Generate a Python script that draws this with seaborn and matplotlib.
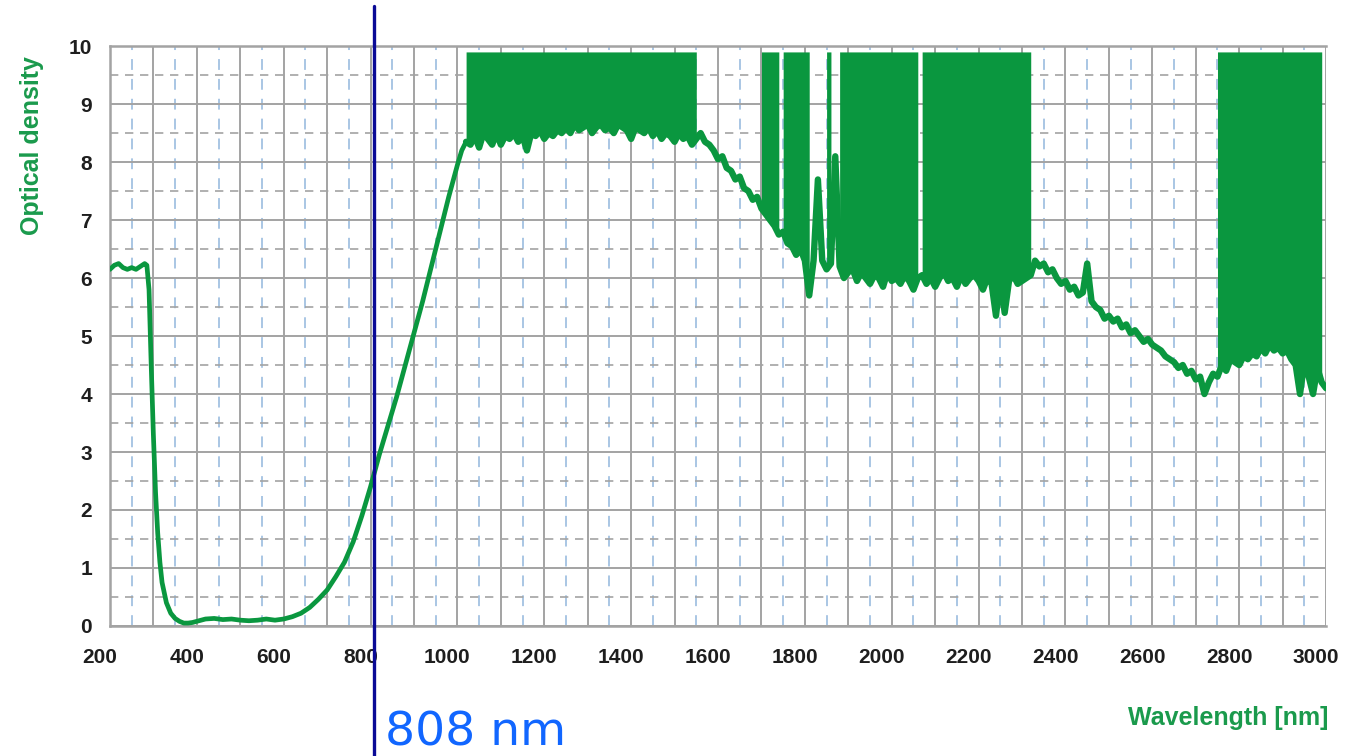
import numpy as np
import pandas as pd
import matplotlib
matplotlib.use("Agg")
import matplotlib.pyplot as plt
import matplotlib.transforms as mtransforms
from matplotlib.ticker import MultipleLocator, FuncFormatter
import seaborn as sns

# Smooth part of the spectrum
wl_smooth = [200, 210, 220, 230, 240, 250, 260, 270, 280, 285, 290, 295, 300, 305,
             310, 315, 320, 330, 340, 350, 360, 370, 380, 390, 400, 420, 440, 460,
             480, 500, 520, 540, 560, 580, 600, 620, 640, 660, 680, 700, 720, 740,
             760, 780, 800, 820, 840, 860, 880, 900, 920, 940, 960, 980, 1000, 1010, 1020]
od_smooth = [6.15, 6.22, 6.25, 6.18, 6.15, 6.18, 6.15, 6.2, 6.25, 6.22, 5.8, 4.5, 3.3, 2.3,
             1.6, 1.1, 0.75, 0.4, 0.22, 0.13, 0.08, 0.05, 0.05, 0.06, 0.08, 0.12, 0.13, 0.11,
             0.12, 0.1, 0.09, 0.1, 0.12, 0.1, 0.12, 0.16, 0.22, 0.32, 0.46, 0.62, 0.85, 1.1,
             1.45, 1.9, 2.4, 2.95, 3.45, 3.95, 4.5, 5.05, 5.6, 6.2, 6.8, 7.4, 7.95, 8.2, 8.35]

# Noisy part, sampled every 10 nm from 1020 to 3000 nm
wl_noisy = np.arange(1020, 3001, 10)
od_noisy = [
    8.35,
    8.3, 8.45, 8.25, 8.5, 8.4, 8.3, 8.5, 8.3, 8.45, 8.4,
    8.5, 8.35, 8.45, 8.2, 8.5, 8.45, 8.55, 8.4, 8.5, 8.45,
    8.55, 8.5, 8.6, 8.5, 8.65, 8.55, 8.6, 8.65, 8.5, 8.6,
    8.65, 8.55, 8.6, 8.5, 8.65, 8.6, 8.55, 8.4, 8.6, 8.55,
    8.5, 8.6, 8.45, 8.55, 8.4, 8.5, 8.45, 8.35, 8.5, 8.4,
    8.45, 8.3, 8.4, 8.5, 8.35, 8.3, 8.2, 8.05, 8.1, 7.9,
    7.85, 7.7, 7.75, 7.55, 7.5, 7.35, 7.4, 7.2, 7.1, 7.0,
    6.9, 6.75, 6.8, 6.6, 6.55, 6.4, 6.5, 6.3, 5.7, 6.3,
    7.7, 6.3, 6.15, 6.25, 8.1, 6.2, 6.0, 6.1, 6.15, 5.95,
    6.1, 6.0, 5.9, 6.05, 6.0, 5.85, 6.1, 5.95, 6.0, 5.9,
    6.05, 5.95, 5.8, 6.0, 6.05, 5.9, 6.0, 5.85, 6.0, 6.1,
    5.95, 6.0, 5.85, 6.05, 5.9, 6.0, 6.05, 5.95, 5.8, 6.0,
    5.9, 5.35, 6.0, 5.4, 5.95, 6.05, 5.9, 5.95, 6.0, 6.05,
    6.3, 6.2, 6.25, 6.1, 6.15, 6.0, 5.9, 5.95, 5.8, 5.85,
    5.7, 5.75, 6.25, 5.6, 5.5, 5.45, 5.3, 5.35, 5.25, 5.3,
    5.15, 5.2, 5.05, 5.1, 5.0, 4.9, 4.95, 4.85, 4.8, 4.75,
    4.65, 4.6, 4.55, 4.45, 4.5, 4.35, 4.4, 4.25, 4.3, 4.0,
    4.2, 4.35, 4.3, 4.5, 4.4, 4.6, 4.55, 4.5, 4.65, 4.6,
    4.7, 4.65, 4.8, 4.7, 4.85, 4.75, 4.8, 4.7, 4.75, 4.6,
    4.5, 4.0, 4.55, 4.3, 4.0, 4.45, 4.2, 4.1,
]

# Saturated (detector limit) bands
band_start = [1020, 1700, 1746, 1848, 1877, 2064, 2741]
band_end = [1558, 1742, 1813, 1860, 2060, 2327, 2995]
od_max = 9.9

laser_nm = 808

smooth = pd.DataFrame({"wl": wl_smooth, "od": od_smooth})
noisy = pd.DataFrame({"wl": wl_noisy, "od": od_noisy})

green = "#0a973f"
label_green = "#1a9a4c"
grid_gray = "#a3a3a3"
dash_blue = "#a3c2e2"

sns.set_style("white")
plt.rcParams["font.family"] = ["Liberation Sans", "DejaVu Sans"]

fig = plt.figure(figsize=(13.49, 7.56), dpi=100)
ax = fig.add_axes([0.0815, 0.172, 0.9015, 0.767])

sns.lineplot(data=smooth, x="wl", y="od", ax=ax, color=green, linewidth=3.4,
             sort=False, estimator=None, zorder=3)
sns.lineplot(data=noisy, x="wl", y="od", ax=ax, color=green, linewidth=4.6,
             sort=False, estimator=None, zorder=3)
x = noisy["wl"].to_numpy()
y = noisy["od"].to_numpy()
for s, e in zip(band_start, band_end):
    m = (x >= s) & (x <= e)
    ax.fill_between(x, y, od_max, where=m, color=green, linewidth=0, zorder=3)

ax.set_xlim(200, 3000)
ax.set_ylim(0, 10)

# grid
ax.xaxis.set_major_locator(MultipleLocator(100))
ax.xaxis.set_minor_locator(MultipleLocator(50))
ax.yaxis.set_major_locator(MultipleLocator(1))
ax.yaxis.set_minor_locator(MultipleLocator(0.5))
ax.xaxis.set_major_formatter(FuncFormatter(lambda v, p: f"{int(v)}" if int(v) % 200 == 0 else ""))
ax.grid(which="major", axis="both", color=grid_gray, linewidth=1.4)
ax.grid(which="minor", axis="x", color=dash_blue, linewidth=1.3, linestyle=(0, (6, 5)))
ax.grid(which="minor", axis="y", color=grid_gray, linewidth=1.2, linestyle=(0, (5, 4)))
ax.set_axisbelow(True)

for side in ["left", "bottom", "top", "right"]:
    ax.spines[side].set_color(grid_gray)
    ax.spines[side].set_linewidth(1.8)
ax.spines["right"].set_visible(False)

ax.tick_params(axis="x", which="major", length=9, width=1.4, color=grid_gray, pad=7,
               labelsize=15, labelcolor="#1e1e1e")
ax.tick_params(axis="y", which="major", length=8, width=1.4, color=grid_gray, pad=5,
               labelsize=15, labelcolor="#1e1e1e")
ax.tick_params(which="minor", length=0)
# tick labels in the original sit a little left of their ticks
shift = mtransforms.ScaledTranslation(-10 / 100, 0, fig.dpi_scale_trans)
for lab in ax.get_xticklabels():
    lab.set_fontweight("bold")
    lab.set_transform(lab.get_transform() + shift)
for lab in ax.get_yticklabels():
    lab.set_fontweight("bold")

ax.set_xlabel("")
ax.set_ylabel("")
fig.text(0.024, 0.808, "Optical density", rotation=90, ha="center", va="center",
         color=label_green, fontsize=18, fontweight="bold")
fig.text(0.985, 0.05, "Wavelength [nm]", ha="right", va="center",
         color=label_green, fontsize=18, fontweight="bold")

# 808 nm marker
ax.axvline(laser_nm, ymin=-0.23, ymax=1.07, color="#0a0a96", linewidth=2.4,
           clip_on=False, zorder=5)
ax.text(laser_nm + 25, -1.85, f"{laser_nm} nm", transform=ax.transData,
        color="#1166ff", fontsize=34, ha="left", va="center",
        family=["DejaVu Sans"], clip_on=False)

fig.savefig("out.png", dpi=100)
